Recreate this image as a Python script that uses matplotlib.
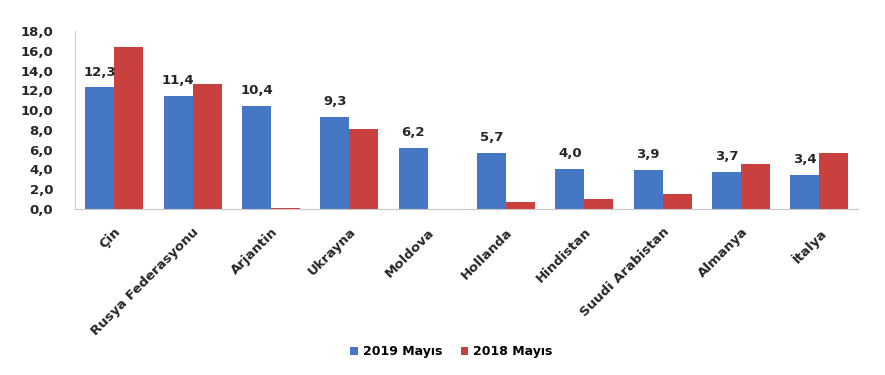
import numpy as np
import matplotlib.pyplot as plt

# veriler
ulkeler = ['Çin', 'Rusya Federasyonu', 'Arjantin', 'Ukrayna', 'Moldova',
           'Hollanda', 'Hindistan', 'Suudi Arabistan', 'Almanya', 'İtalya']
mayis_2019 = [12.3, 11.4, 10.4, 9.3, 6.2, 5.7, 4.0, 3.9, 3.7, 3.4]
mayis_2018 = [16.4, 12.6, 0.05, 8.1, 0.0, 0.7, 1.0, 1.5, 4.5, 5.7]
etiketler = ['12,3', '11,4', '10,4', '9,3', '6,2', '5,7', '4,0', '3,9', '3,7', '3,4']
seri_adlari = ['2019 Mayıs', '2018 Mayıs']

mavi = '#4677c4'
kirmizi = '#c9403e'
yazi = '#262626'

fig = plt.figure(figsize=(8.85, 3.75), dpi=100)
ax = fig.add_axes([0.085, 0.443, 0.885, 0.474])

x = np.arange(len(ulkeler))
w = 0.37
ax.bar(x - w/2, mayis_2019, w, color=mavi, label=seri_adlari[0])
ax.bar(x + w/2, mayis_2018, w, color=kirmizi, label=seri_adlari[1])

for xi, v, t in zip(x, mayis_2019, etiketler):
    ax.text(xi - w/2, v + 0.9, t, ha='center', va='bottom',
            fontsize=9.5, fontweight='bold', color=yazi)

ax.set_xlim(-0.5, len(ulkeler) - 0.5)
ax.set_ylim(0, 18)
ax.set_yticks(np.arange(0, 18.1, 2))
ax.set_yticklabels([f'{v:.1f}'.replace('.', ',') for v in np.arange(0, 18.1, 2)],
                   fontsize=9.5, fontweight='bold', color=yazi)
ax.set_xticks(x)
ax.set_xticklabels(ulkeler, rotation=45, ha='right', rotation_mode='anchor',
                   fontsize=9.5, fontweight='bold', color=yazi)
ax.tick_params(axis='y', length=0, pad=16)
ax.tick_params(axis='x', length=0, pad=12)

for s in ['top', 'right']:
    ax.spines[s].set_visible(False)
ax.spines['left'].set_color('#d0d0d0')
ax.spines['bottom'].set_color('#c8c8c8')

fig.legend(loc='lower center', bbox_to_anchor=(0.51, 0.015), ncol=2, frameon=False,
           handlelength=0.6, handleheight=0.6, columnspacing=1.5, handletextpad=0.4,
           prop={'size': 9, 'weight': 'bold'})

fig.savefig('out.png', dpi=100)
